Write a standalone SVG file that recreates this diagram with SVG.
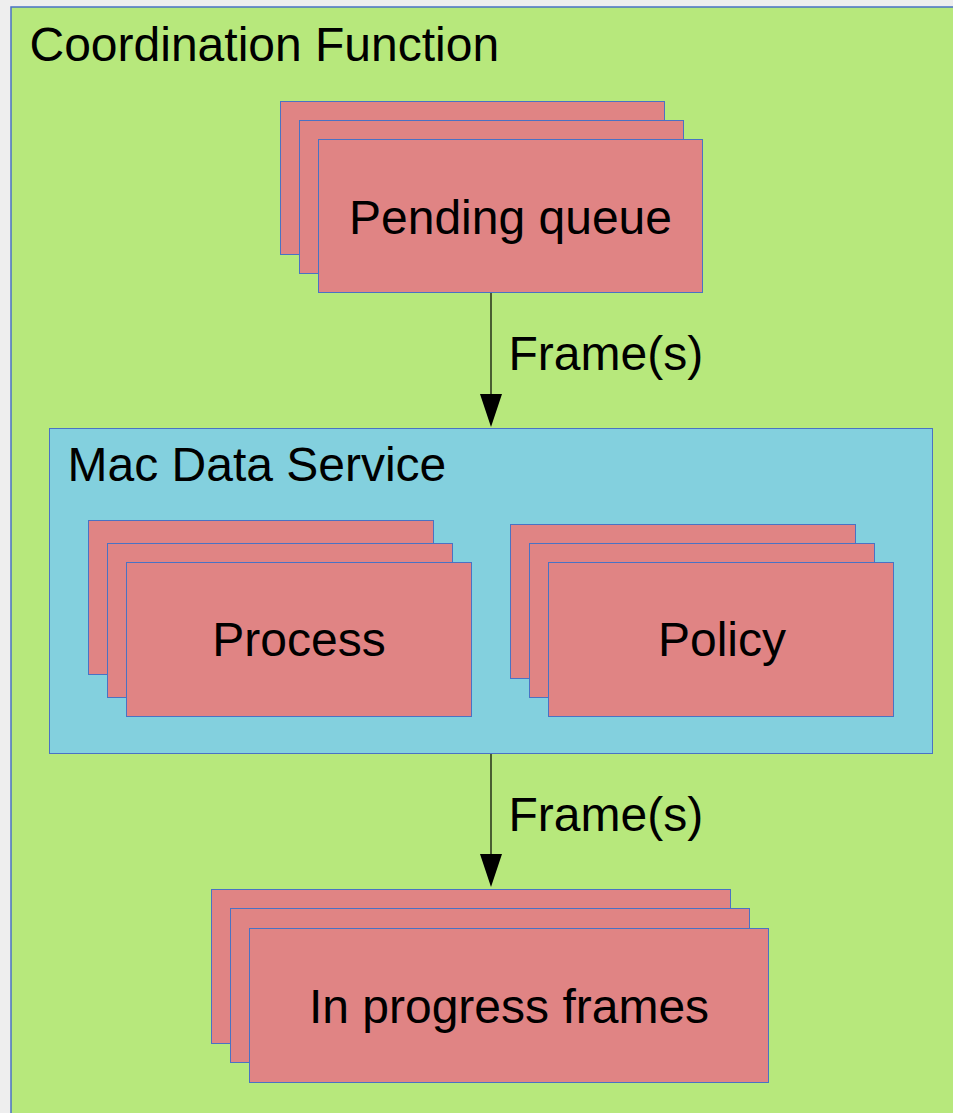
<svg xmlns="http://www.w3.org/2000/svg" width="953" height="1113" viewBox="0 0 953 1113">
  <style>
    .label { font-family: "Liberation Sans", Arial, sans-serif; font-size: 48px; fill: #000; }
    .mid { text-anchor: middle; }
    .card { fill: #e08484; stroke: #4a72c4; stroke-width: 1; }
    .frame { fill: #b7e87c; stroke: #4a72c4; stroke-width: 1.5; }
    .service { fill: #83d0de; stroke: #4a72c4; stroke-width: 1; }
    .wire { stroke: #000; stroke-width: 1.2; fill: none; }
    .head { fill: #000; }
  </style>

  <!-- page background -->
  <rect x="0" y="0" width="953" height="1113" fill="#eeeeee"/>

  <!-- outer coordination container -->
  <g id="coordination-function">
    <rect class="frame" x="11" y="7" width="960" height="1130"/>
    <text class="label" x="29.5" y="61">Coordination Function</text>
  </g>

  <!-- pending queue stack -->
  <g id="pending-queue">
    <rect class="card" x="280.5" y="101.5" width="384" height="153"/>
    <rect class="card" x="299.5" y="120.5" width="384" height="153"/>
    <rect class="card" x="318.5" y="139.5" width="384" height="153"/>
    <text class="label mid" x="510.5" y="234">Pending queue</text>
  </g>

  <!-- mac data service container -->
  <g id="mac-data-service">
    <rect class="service" x="49.5" y="428.5" width="883" height="325"/>
    <text class="label" x="67.5" y="481">Mac Data Service</text>
  </g>

  <!-- process stack -->
  <g id="process">
    <rect class="card" x="88.5" y="520.5" width="345" height="154"/>
    <rect class="card" x="107.5" y="543.5" width="345" height="154"/>
    <rect class="card" x="126.5" y="562.5" width="345" height="154"/>
    <text class="label mid" x="299" y="656">Process</text>
  </g>

  <!-- policy stack -->
  <g id="policy">
    <rect class="card" x="510.5" y="524.5" width="345" height="154"/>
    <rect class="card" x="529.5" y="543.5" width="345" height="154"/>
    <rect class="card" x="548.5" y="562.5" width="345" height="154"/>
    <text class="label mid" x="722" y="656">Policy</text>
  </g>

  <!-- in progress frames stack -->
  <g id="in-progress-frames">
    <rect class="card" x="211.5" y="889.5" width="519" height="154"/>
    <rect class="card" x="230.5" y="908.5" width="519" height="154"/>
    <rect class="card" x="249.5" y="928.5" width="519" height="154"/>
    <text class="label mid" x="509" y="1023">In progress frames</text>
  </g>

  <!-- connectors: vertical flow with filled arrowheads -->
  <g id="connectors">
    <line class="wire" x1="491" y1="293" x2="491" y2="396"/>
    <path class="head" d="M480,394 L502,394 L491,427 Z"/>
    <text class="label" x="508.5" y="370">Frame(s)</text>

    <line class="wire" x1="491" y1="754" x2="491" y2="856"/>
    <path class="head" d="M480,854 L502,854 L491,887 Z"/>
    <text class="label" x="508.5" y="831">Frame(s)</text>
  </g>
</svg>
